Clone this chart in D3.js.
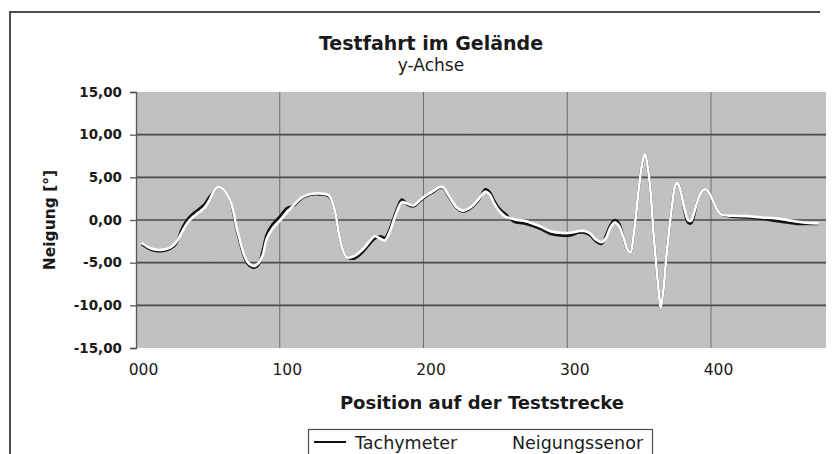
<!DOCTYPE html>
<html>
<head>
<meta charset="utf-8">
<script src="https://cdn.jsdelivr.net/npm/d3@7"></script>
<style>
  html, body { margin: 0; padding: 0; background: #fff; }
  svg { display: block; }
  text { font-family: "DejaVu Sans", Verdana, sans-serif; fill: #1a1a1a; }
</style>
</head>
<body>
<svg id="chart" width="832" height="454"></svg>
<script>
// Streckenposition der Messpunkte
const positions = [4,10,18,24,28,32,36,40,44,48,51,54,57,60,63,66,68,70,72,75,78,82,85,88,91,95,100,105,110,115,120,128,134,137,139,141,143,145,147,152,158,163,166,170,173,176,179,182,185,189,193,198,202,207,211,214,217,220,223,227,231,235,239,243,246,249,253,257,263,270,276,282,288,295,302,308,312,316,320,324,327,330,333,336,339,342,344,346,348,350,352,354,356,358,360,362,364,365,367,369,371,373,375,376.5,378,380,382,384,386,388,390,393,396,399,402,405,408,415,425,435,445,453,460,468,475];

// Neigung [°] aus Tachymeter-Messung
const tachymeter = [-2.85,-3.45,-3.65,-3.35,-2.75,-1.0,0.1,0.8,1.3,1.9,2.7,3.3,3.9,3.7,3.1,2.1,0.6,-1.1,-2.4,-4.2,-5.2,-5.6,-5.3,-3.7,-1.7,-0.5,0.4,1.4,1.7,2.5,2.9,3.0,2.8,1.9,0.6,-1.5,-3.0,-4.0,-4.4,-4.5,-3.7,-2.7,-2.2,-1.9,-2.1,-1.3,0.1,1.5,2.4,1.8,1.6,2.3,2.8,3.3,3.75,3.7,2.9,2.1,1.4,1.0,1.2,1.7,2.5,3.6,3.3,2.3,1.3,0.7,-0.2,-0.4,-0.7,-1.1,-1.6,-1.8,-1.8,-1.5,-1.5,-1.8,-2.5,-2.8,-1.8,-0.6,0.0,-0.4,-2.0,-3.5,-3.8,-2.0,0.9,4.0,6.5,7.8,6.2,3.2,-1.5,-5.5,-9.0,-10.3,-8.0,-4.2,-1.0,1.8,4.0,4.4,3.9,2.5,0.7,-0.3,-0.4,0.4,1.9,3.2,3.6,3.1,2.0,1.0,0.6,0.4,0.3,0.15,-0.1,-0.3,-0.45,-0.45,-0.45];

// Neigung [°] aus dem Neigungssensor
const neigungssensor = [-2.7,-3.3,-3.5,-3.2,-2.6,-1.4,-0.3,0.4,0.9,1.5,2.3,3.3,3.9,3.7,3.1,2.1,0.8,-0.9,-2.2,-4.0,-5.0,-5.4,-5.1,-4.2,-2.2,-1.0,-0.1,0.9,1.8,2.6,3.0,3.1,2.9,1.9,0.6,-1.5,-3.0,-4.0,-4.4,-4.2,-3.4,-2.4,-1.9,-2.2,-2.4,-1.6,-0.2,1.2,2.1,1.9,1.7,2.4,2.9,3.4,3.85,3.8,3.0,2.2,1.5,1.1,1.3,1.8,2.6,3.3,3.0,2.0,1.0,0.4,0.1,-0.1,-0.4,-0.8,-1.3,-1.5,-1.5,-1.3,-1.3,-1.6,-2.3,-2.6,-2.1,-0.9,-0.3,-0.7,-2.0,-3.5,-3.8,-2.0,0.9,4.0,6.5,7.8,6.2,3.2,-1.5,-5.5,-9.0,-10.3,-8.0,-4.2,-1.0,1.8,4.0,4.4,3.9,2.5,1.0,0.0,-0.1,0.7,1.9,3.2,3.6,3.1,2.0,1.0,0.6,0.5,0.45,0.3,0.2,0.0,-0.2,-0.35,-0.4];

const xTicks = [0, 100, 200, 300, 400];
const xTickLabels = ["000", "100", "200", "300", "400"];
const yTicks = [-15, -10, -5, 0, 5, 10, 15];
const seriesNames = ["Tachymeter", "Neigungssenor"];

const svg = d3.select("#chart");
const plot = { left: 136, right: 826, top: 92, bottom: 348 };

const x = d3.scaleLinear().domain([0, 480]).range([plot.left, plot.right]);
const y = d3.scaleLinear().domain([-15, 15]).range([plot.bottom, plot.top]);

const de = d3.formatLocale({ decimal: ",", thousands: ".", grouping: [3], currency: ["", " €"], minus: "-" });
const fmtY = de.format(".2f");

// Rahmen des Diagramms
svg.append("path")
  .attr("d", `M10,454 L10,12 L820,12`)
  .attr("fill", "none").attr("stroke", "#4d4d4d").attr("stroke-width", 2);

// Körnige graue Zeichenfläche
const defs = svg.append("defs");
const grain = defs.append("filter").attr("id", "grain")
  .attr("x", 0).attr("y", 0).attr("width", "100%").attr("height", "100%");
grain.append("feTurbulence").attr("type", "fractalNoise").attr("baseFrequency", 0.9).attr("numOctaves", 2).attr("seed", 3).attr("result", "n");
grain.append("feColorMatrix").attr("type", "matrix")
  .attr("values", "0 0 0 0 0.5  0 0 0 0 0.5  0 0 0 0 0.5  0 0 0 -1.2 0.9");

svg.append("rect")
  .attr("x", plot.left).attr("y", plot.top)
  .attr("width", plot.right - plot.left).attr("height", plot.bottom - plot.top)
  .attr("fill", "#c1c1c1");
svg.append("rect")
  .attr("x", plot.left).attr("y", plot.top)
  .attr("width", plot.right - plot.left).attr("height", plot.bottom - plot.top)
  .attr("filter", "url(#grain)").attr("opacity", 0.18);

// Gitternetz
svg.append("g").selectAll("line").data(xTicks.filter(d => d > 0)).join("line")
  .attr("x1", d => x(d)).attr("x2", d => x(d))
  .attr("y1", plot.top).attr("y2", plot.bottom)
  .attr("stroke", "#6e6e6e").attr("stroke-width", 1);
svg.append("g").selectAll("line").data(yTicks.filter(d => d > -15 && d < 15)).join("line")
  .attr("x1", plot.left).attr("x2", plot.right)
  .attr("y1", d => y(d)).attr("y2", d => y(d))
  .attr("stroke", "#4a4a4a").attr("stroke-width", 1.6);

// y-Achse
const yAxis = svg.append("g")
  .attr("transform", `translate(${plot.left},0)`)
  .call(d3.axisLeft(y).tickValues(yTicks).tickFormat(fmtY).tickSize(6).tickPadding(8));
yAxis.select(".domain").attr("stroke", "#555").attr("stroke-width", 1.3);
yAxis.selectAll(".tick line").attr("stroke", "#555").attr("stroke-width", 1.3);
yAxis.selectAll(".tick text")
  .attr("font-family", "DejaVu Sans, sans-serif").attr("font-size", 13.5).attr("font-weight", "bold")
  .attr("fill", "#1a1a1a");

// x-Achse (Beschriftung ohne Striche)
const xAxis = svg.append("g")
  .attr("transform", `translate(0,${plot.bottom})`)
  .call(d3.axisBottom(x).tickValues(xTicks).tickFormat((d, i) => xTickLabels[i]).tickSize(0).tickPadding(16));
xAxis.select(".domain").remove();
xAxis.selectAll(".tick text")
  .attr("dx", 7)
  .attr("font-family", "DejaVu Sans, sans-serif").attr("font-size", 15.5)
  .attr("fill", "#1a1a1a");

// Messkurven
const line = d3.line()
  .x((d, i) => x(positions[i]))
  .y(d => y(d))
  .curve(d3.curveCatmullRom.alpha(0.5));

svg.append("path").datum(tachymeter)
  .attr("d", line).attr("fill", "none")
  .attr("stroke", "#111").attr("stroke-width", 2.6).attr("stroke-linejoin", "round");
svg.append("path").datum(neigungssensor)
  .attr("d", line).attr("fill", "none")
  .attr("stroke", "#ffffff").attr("stroke-width", 2.6).attr("stroke-linejoin", "round");

// Titel
svg.append("text").attr("x", 431).attr("y", 50).attr("text-anchor", "middle")
  .attr("font-size", 19).attr("font-weight", "bold").text("Testfahrt im Gelände");
svg.append("text").attr("x", 431).attr("y", 71).attr("text-anchor", "middle")
  .attr("font-size", 17).text("y-Achse");

// Achsentitel
svg.append("text").attr("x", 482).attr("y", 409).attr("text-anchor", "middle")
  .attr("font-size", 18).attr("font-weight", "bold").text("Position auf der Teststrecke");
svg.append("text")
  .attr("transform", `translate(55,220) rotate(-90)`)
  .attr("text-anchor", "middle")
  .attr("font-size", 15.5).attr("font-weight", "bold").text("Neigung [°]");

// Legende
const legend = svg.append("g");
legend.append("rect").attr("x", 308.5).attr("y", 429.5).attr("width", 344).attr("height", 30)
  .attr("fill", "#fff").attr("stroke", "#4d4d4d").attr("stroke-width", 1.2);
const legendItems = [
  { name: seriesNames[0], color: "#111", lx: 314, tx: 355 },
  { name: seriesNames[1], color: "#fff", lx: 470, tx: 512 }
];
legendItems.forEach(it => {
  legend.append("line").attr("x1", it.lx).attr("x2", it.lx + 32).attr("y1", 442).attr("y2", 442)
    .attr("stroke", it.color).attr("stroke-width", 2);
  legend.append("text").attr("x", it.tx).attr("y", 449).attr("font-size", 17.5).text(it.name);
});
</script>
</body>
</html>
